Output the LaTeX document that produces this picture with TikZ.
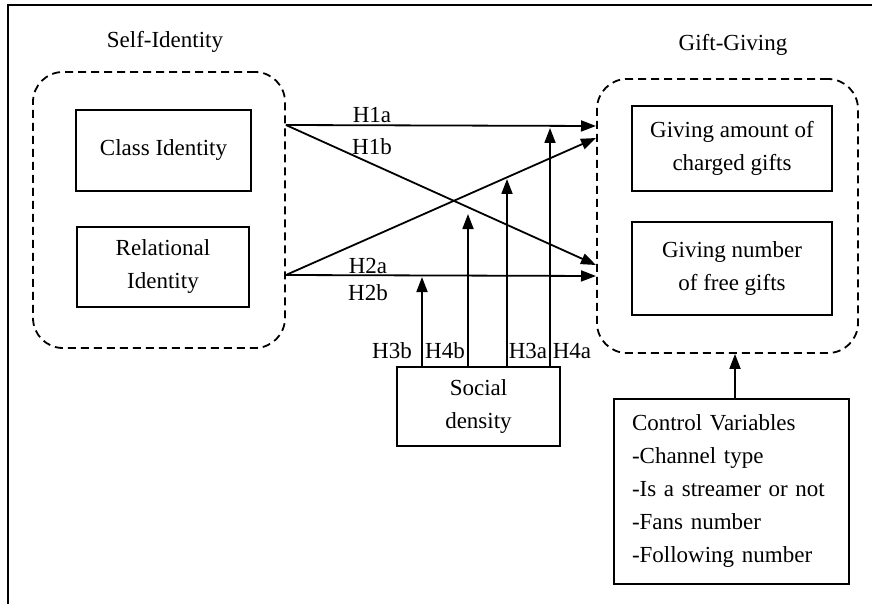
\documentclass[tikz,border=0pt]{standalone}
\usepackage{fontspec}
\setmainfont{Liberation Serif}
\usetikzlibrary{arrows.meta}
\begin{document}
\begin{tikzpicture}[x=1pt,y=-1pt,
  every node/.style={font=\fontsize{23}{33}\selectfont, inner sep=0pt},
  box/.style={draw, line width=2pt, align=center},
  grp/.style={draw, line width=1.8pt, dash pattern=on 8pt off 5pt, rounded corners=30pt},
  arr/.style={line width=1.8pt, -{Triangle[length=15pt,width=11pt]}},
  lbl/.style={}]
\useasboundingbox (0,0) rectangle (872,604);
\fill[white] (0,0) rectangle (872,604);
% outer frame (only top and left edges visible)
\draw[line width=2.4pt] (8,604) -- (8,5) -- (872,5);
% group labels
\node[lbl] (selfl) at (165,42) {Self-Identity};
\node[lbl] (giftl) at (733,45) {Gift-Giving};
% dashed groups
\node[grp, minimum width=252pt, minimum height=276pt] (leftgrp) at (159,210) {};
\node[grp, minimum width=261pt, minimum height=274pt] (rightgrp) at (727.5,216) {};
% boxes
\node[box, minimum width=175pt, minimum height=81pt] (class) at (163.5,150.5) {Class Identity};
\node[box, minimum width=172pt, minimum height=80pt] (rel) at (163,267) {Relational\\Identity};
\node[box, minimum width=200pt, minimum height=85pt] (amount) at (732,148.5) {Giving amount of\\charged gifts};
\node[box, minimum width=200pt, minimum height=93pt] (number) at (732,268.5) {Giving number\\of free gifts};
\node[box, minimum width=163pt, minimum height=79pt] (social) at (478.5,406.5) {Social\\density};
\node[box, minimum width=235pt, minimum height=185pt, align=left, text width=199pt] (control) at (731.5,491) {Control Variables\\-Channel type\\-Is a streamer or not\\-Fans number\\-Following number};
% connector endpoints
\coordinate (s1) at (leftgrp.east |- 0,125);
\coordinate (s2) at (leftgrp.east |- 0,275);
\coordinate (e1) at (596,126);
\coordinate (e2) at (596,138);
\coordinate (e3) at (596,265);
\coordinate (e4) at (596,276);
\draw[arr] (s1) -- (e1);
\draw[arr] (s1) -- (e3);
\draw[arr] (s2) -- (e2);
\draw[arr] (s2) -- (e4);
% moderators
\coordinate (t1) at (422,277);
\coordinate (t2) at (468,214);
\coordinate (t3) at (507,179);
\coordinate (t4) at (550,128);
\draw[arr] (social.north -| t1) -- (t1);
\draw[arr] (social.north -| t2) -- (t2);
\draw[arr] (social.north -| t3) -- (t3);
\draw[arr] (social.north -| t4) -- (t4);
\draw[arr] (control.north -| 735,0) -- (rightgrp.south -| 735,0);
% labels
\node[lbl] (h1a) at (372,115) {H1a};
\node[lbl] (h1b) at (372,147) {H1b};
\node[lbl] (h2a) at (368,266) {H2a};
\node[lbl] (h2b) at (368,293) {H2b};
\node[lbl] (h3b) at (392,351) {H3b};
\node[lbl] (h4b) at (445,351) {H4b};
\node[lbl] (h3a) at (528,351) {H3a};
\node[lbl] (h4a) at (572,351) {H4a};
\end{tikzpicture}
\end{document}
